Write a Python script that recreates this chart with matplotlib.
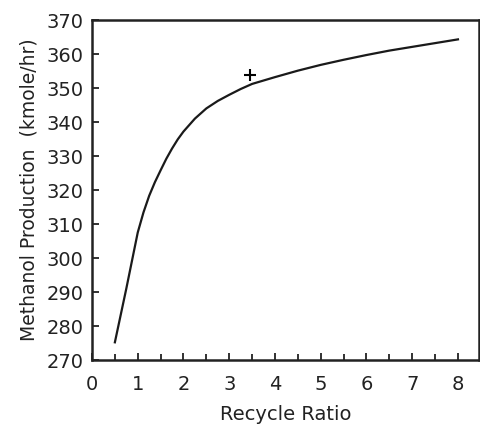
import matplotlib
matplotlib.use("Agg")
import matplotlib.pyplot as plt
from matplotlib.ticker import MultipleLocator

# recycle ratio vs methanol production
recycle_ratio = [0.5, 0.75, 1.0, 1.125, 1.25, 1.375, 1.5, 1.625, 1.75, 1.875,
                 2.0, 2.25, 2.5, 2.75, 3.0, 3.25, 3.5, 4.0, 4.5, 5.0, 5.5,
                 6.0, 6.5, 7.0, 7.5, 8.0]
methanol_kmol = [275.2, 291.0, 307.5, 313.4, 318.3, 322.3, 325.8, 329.2, 332.2,
                 334.9, 337.2, 341.0, 344.0, 346.2, 348.0, 349.7, 351.2, 353.2,
                 355.1, 356.8, 358.3, 359.7, 361.0, 362.1, 363.2, 364.3]
marker_x = [3.45]
marker_y = [353.7]

plt.rcParams['font.family'] = ['DejaVu Sans']

fig = plt.figure(figsize=(4.81, 4.25), dpi=100)
ax = fig.add_axes([92 / 481, 65 / 425, 387 / 481, 340 / 425])

ax.plot(recycle_ratio, methanol_kmol, color='#1a1a1a', lw=1.6)
ax.plot(marker_x, marker_y, marker='+', color='black', ms=8, mew=1.5, ls='none')

ax.set_xlim(0, 8.46)
ax.set_ylim(270, 370)
ax.xaxis.set_major_locator(MultipleLocator(1))
ax.xaxis.set_minor_locator(MultipleLocator(0.5))
ax.yaxis.set_major_locator(MultipleLocator(10))

ax.tick_params(axis='both', which='both', direction='in', labelsize=14,
               width=1.3, color='#222222', labelcolor='#222222')
ax.tick_params(axis='x', which='major', length=5, pad=11)
ax.tick_params(axis='x', which='minor', length=4)
ax.tick_params(axis='y', which='major', length=5, pad=6)
ax.tick_params(top=False, right=False)

for s in ax.spines.values():
    s.set_linewidth(1.8)
    s.set_color('#222222')

ax.set_xlabel('Recycle Ratio', fontsize=14, labelpad=8, color='#222222')
ax.set_ylabel('Methanol Production  (kmole/hr)', fontsize=13.5, labelpad=6,
              color='#222222')

fig.savefig('out.png', dpi=100)
